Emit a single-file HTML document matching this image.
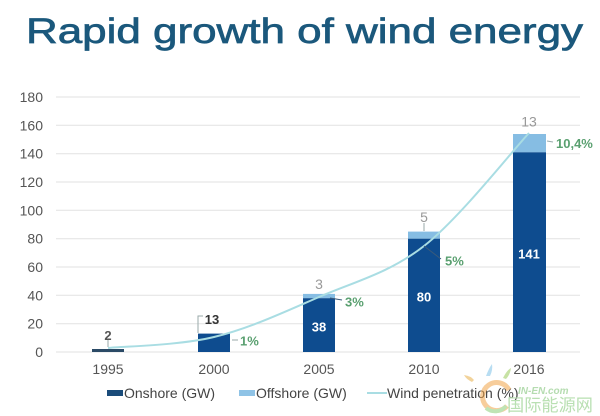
<!DOCTYPE html>
<html>
<head>
<meta charset="utf-8">
<style>
html,body{margin:0;padding:0;background:#fff;}
svg{display:block;}
</style>
</head>
<body>
<svg width="600" height="416" viewBox="0 0 600 416" xmlns="http://www.w3.org/2000/svg" font-family="Liberation Sans, sans-serif">
  <rect width="600" height="416" fill="#ffffff"/>
  <!-- Title -->
  <text x="26" y="43" font-size="35" fill="#1b587c" stroke="#1b587c" stroke-width="0.7" textLength="557" lengthAdjust="spacingAndGlyphs">Rapid growth of wind energy</text>

  <!-- Gridlines -->
  <g stroke="#e2e2e2" stroke-width="1">
    <line x1="56" y1="97" x2="580" y2="97"/>
    <line x1="56" y1="125.3" x2="580" y2="125.3"/>
    <line x1="56" y1="153.7" x2="580" y2="153.7"/>
    <line x1="56" y1="182" x2="580" y2="182"/>
    <line x1="56" y1="210.3" x2="580" y2="210.3"/>
    <line x1="56" y1="238.7" x2="580" y2="238.7"/>
    <line x1="56" y1="267" x2="580" y2="267"/>
    <line x1="56" y1="295.3" x2="580" y2="295.3"/>
    <line x1="56" y1="323.7" x2="580" y2="323.7"/>
    <line x1="56" y1="352" x2="580" y2="352"/>
  </g>

  <!-- Y axis labels -->
  <g font-size="14" fill="#555" text-anchor="end">
    <text x="43" y="102">180</text>
    <text x="43" y="130.3">160</text>
    <text x="43" y="158.7">140</text>
    <text x="43" y="187">120</text>
    <text x="43" y="215.3">100</text>
    <text x="43" y="243.7">80</text>
    <text x="43" y="272">60</text>
    <text x="43" y="300.3">40</text>
    <text x="43" y="328.7">20</text>
    <text x="43" y="357">0</text>
  </g>

  <!-- X labels -->
  <g font-size="14" fill="#555" text-anchor="middle">
    <text x="108" y="374">1995</text>
    <text x="214" y="374">2000</text>
    <text x="319" y="374">2005</text>
    <text x="424" y="374">2010</text>
    <text x="529" y="374">2016</text>
  </g>

  <!-- Bars -->
  <rect x="92" y="349" width="32" height="3" fill="#2b4a66"/>
  <rect x="198" y="333.6" width="32" height="18.4" fill="#0e4c8f"/>
  <rect x="303" y="293.9" width="32" height="4.3" fill="#86bde3"/>
  <rect x="303" y="298.2" width="32" height="53.8" fill="#0e4c8f"/>
  <rect x="408" y="231.6" width="32" height="7.1" fill="#86bde3"/>
  <rect x="408" y="238.7" width="32" height="113.3" fill="#0e4c8f"/>
  <rect x="513" y="134" width="33" height="18.3" fill="#86bde3"/>
  <rect x="513" y="152.3" width="33" height="199.7" fill="#0e4c8f"/>

  <!-- Penetration line -->
  <path d="M108,348 C125.7,346.2 178.8,345.5 214,337 C249.2,328.5 284,312.2 319,297 C354,281.8 389,273.3 424,246 C459,218.7 511.5,151.8 529,133"
        fill="none" stroke="#a9dde3" stroke-width="2"/>

  <!-- connectors -->
  <g stroke="#9aa" stroke-width="1" fill="none">
    <line x1="108" y1="340" x2="108" y2="347"/>
    <polyline points="203,316 198,316 198,333"/>
    <line x1="232" y1="340" x2="238" y2="340"/>
    <line x1="424" y1="223" x2="424" y2="231"/>
    <line x1="547" y1="141" x2="553" y2="142"/>
  </g>
  <g stroke="#3a5a7a" stroke-width="1" fill="none">
    <line x1="330" y1="298" x2="342" y2="300"/>
    <line x1="424" y1="246" x2="441" y2="259"/>
  </g>

  <!-- value labels -->
  <g font-size="13" font-weight="bold" text-anchor="middle">
    <text x="108" y="340" fill="#555">2</text>
    <text x="212" y="324" fill="#333">13</text>
    <text x="319" y="331.5" fill="#fff">38</text>
    <text x="424" y="301.5" fill="#fff">80</text>
    <text x="529" y="258.5" fill="#fff">141</text>
  </g>
  <g font-size="14" fill="#999" text-anchor="middle">
    <text x="319" y="289">3</text>
    <text x="424" y="222">5</text>
    <text x="529" y="126.5">13</text>
  </g>
  <g font-size="13" font-weight="bold" fill="#5aa070">
    <text x="240" y="345.5">1%</text>
    <text x="345" y="306.5">3%</text>
    <text x="445" y="265.5">5%</text>
    <text x="556" y="148">10,4%</text>
  </g>

  <!-- Legend -->
  <rect x="107" y="390" width="16" height="6" fill="#1a4c7a"/>
  <text x="124" y="398" font-size="14" fill="#444">Onshore (GW)</text>
  <rect x="239" y="390" width="16" height="6" fill="#8fc3e6"/>
  <text x="256" y="398" font-size="14" fill="#444">Offshore (GW)</text>
  <line x1="367" y1="393" x2="387" y2="393" stroke="#a9dde3" stroke-width="2"/>
  <text x="387" y="398" font-size="14" fill="#444">Wind penetration (%)</text>

  <!-- Watermark -->
  <g opacity="0.55">
    <path d="M486,376 q3,-8 6,-12 q1,6 -2,12 z" fill="#7fc3e8"/>
    <path d="M503,378 q4,-8 8,-10 q-1,7 -5,11 z" fill="#9acb5a"/>
    <path d="M472,382 q-6,-3 -8,-7 q7,1 10,5 z" fill="#e8b04a"/>
    <path d="M509,390 a14,14 0 1 0 -2,16" fill="none" stroke="#f2a64a" stroke-width="5"/>
    <path d="M486,408 a14,14 0 0 0 20,-2" fill="none" stroke="#8bcf7a" stroke-width="4"/>
  </g>
  <text x="518" y="394" font-size="10" font-weight="bold" fill="#b5dcb0" font-style="italic">IN-EN.com</text>
  <text x="507" y="411" font-size="17" fill="#b9e0b2" font-family="Liberation Sans, Noto Sans CJK SC, sans-serif" textLength="86" lengthAdjust="spacingAndGlyphs">国际能源网</text>
</svg>
</body>
</html>
